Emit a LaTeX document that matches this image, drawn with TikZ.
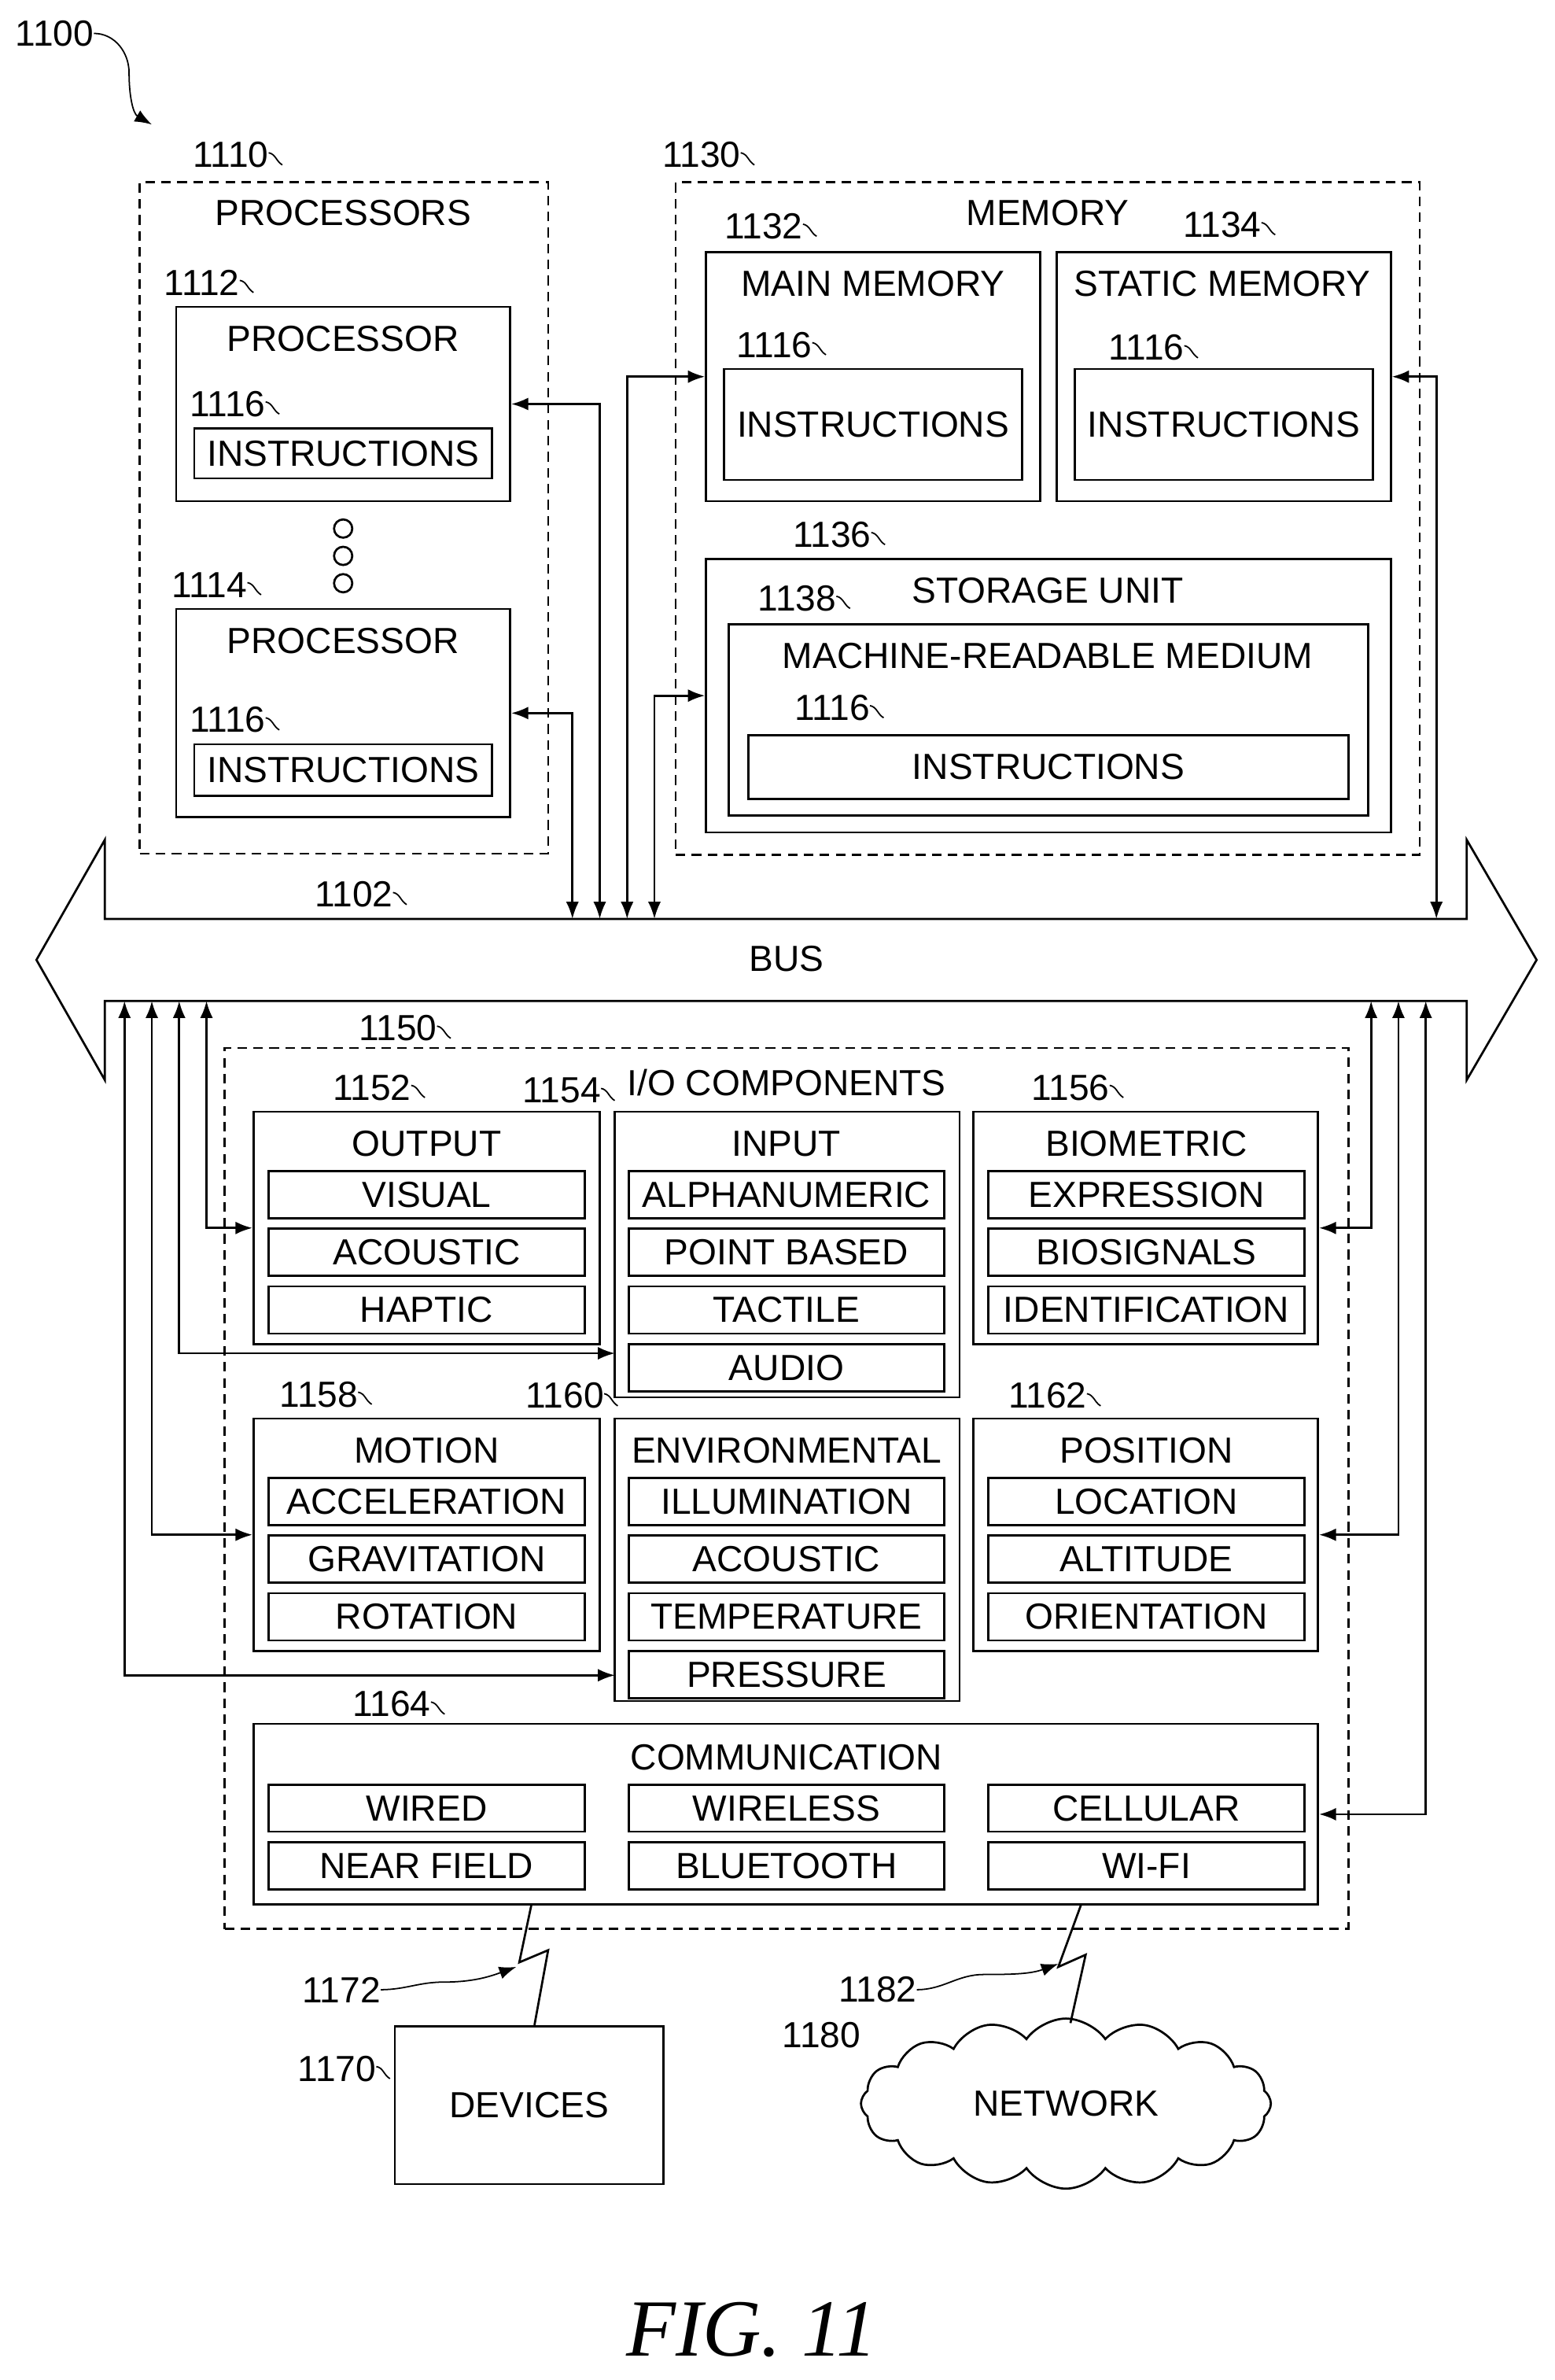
\documentclass[tikz,border=0pt]{standalone}
\usepackage{fontspec}
\setmainfont{Liberation Sans}
\newfontfamily\figfont{Liberation Serif}
\usetikzlibrary{fit,arrows.meta,shapes.symbols}
\newcommand\bx[6][]{\path (#3,#4) coordinate (#2-a) (#5,#6) coordinate (#2-b);
 \node[draw,line width=2pt,inner sep=0pt,fit=(#2-a)(#2-b),#1] (#2) {};}
\newcommand\itm[6]{\path (#2,#3) coordinate (#1-a) (#4,#5) coordinate (#1-b);
 \node[draw,line width=2pt,inner sep=0pt,fit=(#1-a)(#1-b),label={[name=#1-t,txt]center:#6}] (#1) {};}
\newcommand\lbl[3]{\node[txt] (#1) at (#2) {#3};
 \draw[line width=1.3pt] ([yshift=2pt]#1.east) to[out=-10,in=150] ++(9,8);}
\begin{document}
\begin{tikzpicture}[x=0.05cm,y=-0.05cm,
 txt/.style={font=\fontsize{34}{36}\selectfont,inner sep=0pt},
 dsh/.style={draw,line width=2pt,dash pattern=on 9pt off 6pt},
 con/.style={line width=2pt,{Latex[length=16pt,width=12pt]}-{Latex[length=16pt,width=12pt]}},
 ar/.style={line width=2pt,-{Latex[length=16pt,width=12pt]}}]
\useasboundingbox (0,0) rectangle (1024,1567);
% 1100
\node[txt] (l1100) at (36,22) {1100};
\draw[ar,line width=1.3pt] (l1100.east) to[out=0,in=90] (85,48) to[out=-90,in=150] (100,82);
% processors
\bx[dsh]{proc}{92}{120}{361}{562}
\node[txt] (proct) at (226,140) {PROCESSORS};
\lbl{l1110}{152,102}{1110}
\bx{p1}{116}{202}{336}{330}
\node[txt] (p1t) at (226,223) {PROCESSOR};
\itm{p1i}{128}{282}{324}{315}{INSTRUCTIONS}
\lbl{l1112}{133,186}{1112}
\lbl{l1116a}{150,266}{1116}
\foreach \y/\n in {348/a,366/b,384/c} \draw[line width=2pt] (226,\y) circle (6) node (dot\n) {};
\bx{p2}{116}{401}{336}{538}
\node[txt] (p2t) at (226,422) {PROCESSOR};
\itm{p2i}{128}{490}{324}{524}{INSTRUCTIONS}
\lbl{l1114}{138,385}{1114}
\lbl{l1116b}{150,474}{1116}
% memory
\bx[dsh]{mem}{445}{120}{935}{563}
\node[txt] (memt) at (690,140) {MEMORY};
\lbl{l1130}{462,102}{1130}
\bx{mm}{465}{166}{685}{330}
\node[txt] (mmt) at (575,187) {MAIN MEMORY};
\itm{mmi}{477}{243}{673}{316}{INSTRUCTIONS}
\lbl{l1132}{503,149}{1132}
\lbl{l1116c}{510,227}{1116}
\bx{sm}{696}{166}{916}{330}
\node[txt] (smt) at (805,187) {STATIC MEMORY};
\itm{smi}{708}{243}{904}{316}{INSTRUCTIONS}
\lbl{l1134}{805,148}{1134}
\lbl{l1116d}{755,229}{1116}
\bx{su}{465}{368}{916}{548}
\node[txt] (sut) at (690,389) {STORAGE UNIT};
\lbl{l1136}{548,352}{1136}
\bx{mr}{480}{411}{901}{537}
\node[txt] (mrt) at (690,432) {MACHINE-READABLE MEDIUM};
\lbl{l1138}{525,394}{1138}
\itm{mri}{493}{484}{888}{526}{INSTRUCTIONS}
\lbl{l1116e}{548,466}{1116}
% bus
\draw[line width=2pt] (24,632) -- (69,553) -- (69,605) -- (966,605) -- (966,553) -- (1012,632) -- (966,711) -- (966,659) -- (69,659) -- (69,711) -- cycle;
\node[txt] (bust) at (518,631) {BUS};
\lbl{l1102}{233,589}{1102}
\foreach \x in {377,395,413,431,946} \coordinate (bt\x) at (\x,605);
\foreach \x in {82,100,118,136,903,921,939} \coordinate (bb\x) at (\x,659);
\draw[con] (p1.east) -| (bt395);
\draw[con] (p2.east) -| (bt377);
\draw[con] (mm.west) -| (bt413);
\draw[con] (su.west) -| (bt431);
\draw[con] (sm.east) -| (bt946);
% IO
\bx[dsh]{io}{148}{690}{888}{1270}
\node[txt] (iot) at (518,713) {I/O COMPONENTS};
\lbl{l1150}{262,677}{1150}
\bx{out}{167}{732}{395}{885}
\node[txt] (outt) at (281,753) {OUTPUT};
\lbl{l1152}{245,716}{1152}
\itm{o1}{177}{771}{385}{802}{VISUAL}
\itm{o2}{177}{809}{385}{840}{ACOUSTIC}
\itm{o3}{177}{847}{385}{878}{HAPTIC}
\bx{inp}{405}{732}{632}{920}
\node[txt] (inpt) at (518,753) {INPUT};
\lbl{l1154}{370,718}{1154}
\itm{i1}{414}{771}{622}{802}{ALPHANUMERIC}
\itm{i2}{414}{809}{622}{840}{POINT BASED}
\itm{i3}{414}{847}{622}{878}{TACTILE}
\itm{i4}{414}{885}{622}{916}{AUDIO}
\bx{bio}{641}{732}{868}{885}
\node[txt] (biot) at (755,753) {BIOMETRIC};
\lbl{l1156}{705,716}{1156}
\itm{b1}{651}{771}{859}{802}{EXPRESSION}
\itm{b2}{651}{809}{859}{840}{BIOSIGNALS}
\itm{b3}{651}{847}{859}{878}{IDENTIFICATION}
\bx{mot}{167}{934}{395}{1087}
\node[txt] (mott) at (281,955) {MOTION};
\lbl{l1158}{210,918}{1158}
\itm{m1}{177}{973}{385}{1004}{ACCELERATION}
\itm{m2}{177}{1011}{385}{1042}{GRAVITATION}
\itm{m3}{177}{1049}{385}{1080}{ROTATION}
\bx{env}{405}{934}{632}{1120}
\node[txt] (envt) at (518,955) {ENVIRONMENTAL};
\lbl{l1160}{372,919}{1160}
\itm{e1}{414}{973}{622}{1004}{ILLUMINATION}
\itm{e2}{414}{1011}{622}{1042}{ACOUSTIC}
\itm{e3}{414}{1049}{622}{1080}{TEMPERATURE}
\itm{e4}{414}{1087}{622}{1118}{PRESSURE}
\bx{pos}{641}{934}{868}{1087}
\node[txt] (post) at (755,955) {POSITION};
\lbl{l1162}{690,919}{1162}
\itm{q1}{651}{973}{859}{1004}{LOCATION}
\itm{q2}{651}{1011}{859}{1042}{ALTITUDE}
\itm{q3}{651}{1049}{859}{1080}{ORIENTATION}
\bx{com}{167}{1135}{868}{1254}
\node[txt] (comt) at (518,1157) {COMMUNICATION};
\lbl{l1164}{258,1122}{1164}
\itm{c1}{177}{1175}{385}{1206}{WIRED}
\itm{c2}{414}{1175}{622}{1206}{WIRELESS}
\itm{c3}{651}{1175}{859}{1206}{CELLULAR}
\itm{c4}{177}{1213}{385}{1244}{NEAR FIELD}
\itm{c5}{414}{1213}{622}{1244}{BLUETOOTH}
\itm{c6}{651}{1213}{859}{1244}{WI-FI}
\coordinate (inpA) at (405,891);
\coordinate (envA) at (405,1103);
\draw[con] (bb136) |- (out.west);
\draw[con] (bb118) |- (inpA);
\draw[con] (bb100) |- (mot.west);
\draw[con] (bb82) |- (envA);
\draw[con] (bb903) |- (bio.east);
\draw[con] (bb921) |- (pos.east);
\draw[con] (bb939) |- (com.east);
% devices & network
\node[draw,line width=2pt,minimum width=8.85cm,minimum height=5.2cm,txt] (dev) at (348.5,1386) {DEVICES};
\lbl{l1170}{222,1362}{1170}
\node[cloud,draw,line width=2pt,cloud puffs=16,cloud puff arc=110,aspect=2.5,minimum width=13.5cm,minimum height=5.6cm,txt] (net) at (702,1385) {NETWORK};
\node[txt] (l1180) at (541,1340) {1180};
\coordinate (ca) at (350,1254);
\draw[line width=2pt] (ca) -- (342,1292) -- (361,1284) -- (dev.north -| 352,0);
\coordinate (cb) at (712,1254);
\draw[line width=2pt] (cb) -- (697,1295) -- (715,1287) -- (705,1332);
\node[txt] (l1172) at (225,1310) {1172};
\draw[ar,line width=1.3pt] (l1172.east) to[out=0,in=180] (292,1305) to[out=0,in=200] (340,1295);
\node[txt] (l1182) at (578,1310) {1182};
\draw[ar,line width=1.3pt] (l1182.east) to[out=0,in=180] (648,1300) to[out=0,in=200] (697,1293);
\node[font=\figfont\itshape\fontsize{76}{76}\selectfont,inner sep=0pt] (fig) at (495,1534) {FIG. 11};
\end{tikzpicture}
\end{document}
